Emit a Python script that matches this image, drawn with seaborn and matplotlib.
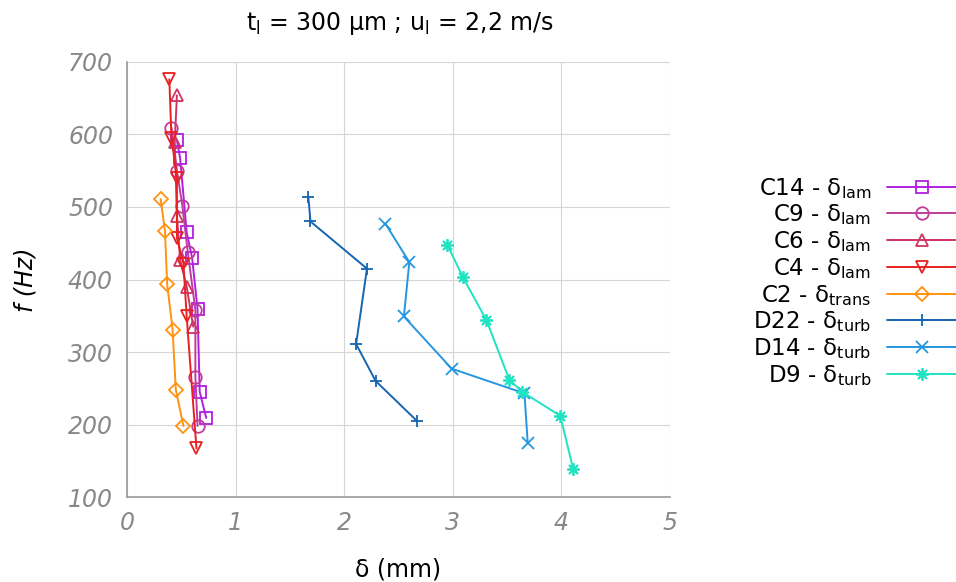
import numpy as np
import pandas as pd
import seaborn as sns
import matplotlib.pyplot as plt

# %%
# Data (delta in mm, f in Hz)
c14_d = [0.46, 0.49, 0.55, 0.60, 0.65, 0.67, 0.73]
c14_f = [592, 567, 465, 430, 359, 245, 209]
c9_d = [0.41, 0.46, 0.51, 0.56, 0.63, 0.63, 0.65]
c9_f = [609, 550, 502, 438, 358, 266, 198]
c6_d = [0.46, 0.44, 0.46, 0.49, 0.55, 0.61]
c6_f = [654, 590, 488, 427, 390, 335]
c4_d = [0.39, 0.41, 0.46, 0.46, 0.52, 0.55, 0.64]
c4_f = [676, 595, 540, 457, 422, 349, 167]
c2_d = [0.31, 0.35, 0.37, 0.42, 0.45, 0.52]
c2_f = [511, 467, 394, 331, 248, 198]
d22_d = [1.67, 1.69, 2.21, 2.11, 2.29, 2.67]
d22_f = [514, 480, 415, 311, 260, 205]
d14_d = [2.38, 2.60, 2.55, 2.99, 3.66, 3.69]
d14_f = [477, 424, 349, 277, 243, 175]
d9_d = [2.95, 3.09, 3.31, 3.52, 3.64, 3.99, 4.11]
d9_f = [448, 404, 344, 262, 245, 212, 138]

series = [
    (r'C14 - δ$_{\mathregular{lam}}$', c14_d, c14_f, '#b11fe0', 's'),
    (r'C9 - δ$_{\mathregular{lam}}$', c9_d, c9_f, '#c03c9c', 'o'),
    (r'C6 - δ$_{\mathregular{lam}}$', c6_d, c6_f, '#cf3462', '^'),
    (r'C4 - δ$_{\mathregular{lam}}$', c4_d, c4_f, '#e8201e', 'v'),
    (r'C2 - δ$_{\mathregular{trans}}$', c2_d, c2_f, '#ff920f', 'D'),
    (r'D22 - δ$_{\mathregular{turb}}$', d22_d, d22_f, '#1565b0', '+'),
    (r'D14 - δ$_{\mathregular{turb}}$', d14_d, d14_f, '#2596e0', 'x'),
    (r'D9 - δ$_{\mathregular{turb}}$', d9_d, d9_f, '#1fe3c3', (8, 2, 0)),
]

# %%
sns.set_theme(style='white')
plt.rcParams['font.family'] = ['DejaVu Sans']
plt.rcParams['text.color'] = 'black'
plt.rcParams['axes.labelcolor'] = 'black'

fig = plt.figure(figsize=(9.56, 5.82), dpi=100)
ax = fig.add_axes([0.1328, 0.146, 0.568, 0.7475])

for lab, d, f, col, mk in series:
    msize = 7 if mk == 'D' else 9
    sns.lineplot(x=d, y=f, sort=False, estimator=None, ax=ax, color=col,
                 marker=mk, markersize=msize, markerfacecolor='none',
                 markeredgecolor=col, markeredgewidth=1.3, linewidth=1.4,
                 label=lab)

ax.set(xlim=[0, 5], ylim=[100, 700])
ax.set_xticks(range(0, 6))
ax.set_yticks(range(100, 701, 100))
ax.grid(True, color='#d5d5d5', linewidth=0.8)
for s in ['top', 'right']:
    ax.spines[s].set_visible(False)
for s in ['left', 'bottom']:
    ax.spines[s].set_color('#999999')
    ax.spines[s].set_linewidth(1.2)
ax.tick_params(direction='in', length=8, color='#999999', width=1,
               labelsize=17, labelcolor='#888888', pad=10)
for t in ax.get_xticklabels() + ax.get_yticklabels():
    t.set_fontstyle('italic')

ax.set_xlabel('δ (mm)', fontsize=17, labelpad=16)
ax.set_ylabel('f (Hz)', fontsize=17, fontstyle='italic', labelpad=22)
fig.suptitle(r't$_{\mathregular{l}}$ = 300 µm ; u$_{\mathregular{l}}$ = 2,2 m/s',
             fontsize=17, x=0.418, y=0.983)

ax.legend(loc='center right', bbox_to_anchor=(1.0, 0.516),
          bbox_transform=fig.transFigure, frameon=False, markerfirst=False,
          fontsize=16.5, handlelength=3.0, handletextpad=0.7, labelspacing=0.08,
          borderaxespad=0, borderpad=0)

fig.savefig('out.png', dpi=100)
